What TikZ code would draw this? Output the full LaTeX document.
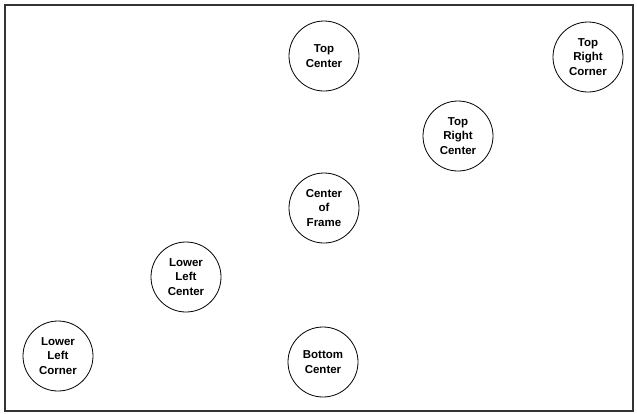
\documentclass[tikz,border=0pt]{standalone}
\usepackage{fontspec}
\setmainfont{Liberation Sans}
\begin{document}
\begin{tikzpicture}[x=1pt,y=-1pt,
  spot/.style={circle, draw=black, line width=0.8pt, minimum size=70pt, inner sep=0pt,
    align=center, font=\fontsize{11.5}{14.5}\selectfont\bfseries},
  framebox/.style={line width=2pt, draw=black!80}]
\useasboundingbox (0,0) rectangle (637,413);
\draw[framebox] (4.5,4.5) rectangle (632.5,410.5);
\node[spot] (tc) at (324,56) {Top\\Center};
\node[spot] (trc) at (588,57) {Top\\Right\\Corner};
\node[spot] (trce) at (458,136) {Top\\Right\\Center};
\node[spot] (cf) at (324,208) {Center\\of\\Frame};
\node[spot] (llc) at (186,277) {Lower\\Left\\Center};
\node[spot] (llco) at (58,356) {Lower\\Left\\Corner};
\node[spot] (bc) at (323,362) {Bottom\\Center};
\end{tikzpicture}
\end{document}
